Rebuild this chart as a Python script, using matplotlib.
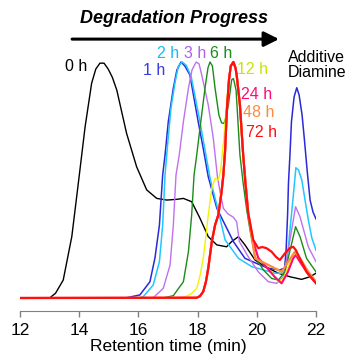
import matplotlib
matplotlib.use("Agg")
import matplotlib.pyplot as plt

plt.rcParams['font.family'] = ['Liberation Sans', 'DejaVu Sans']

# retention time (min) / normalised signal
t_0h = [12.0, 13.0, 13.2, 13.46, 13.75, 13.97, 14.20, 14.42, 14.56, 14.70, 14.84, 14.98, 15.12, 15.27,
        15.60, 15.94, 16.28, 16.62, 16.96, 17.29, 17.52, 17.80, 18.08, 18.36, 18.65, 18.98, 19.15,
        19.38, 19.60, 19.94, 20.28, 20.73, 21.12, 21.51, 21.80, 22.0]
v_0h = [0, 0, 0.02, 0.076, 0.26, 0.486, 0.726, 0.91, 0.97, 0.995, 0.995, 0.97, 0.935, 0.881,
        0.698, 0.556, 0.458, 0.422, 0.415, 0.418, 0.422, 0.408, 0.338, 0.26, 0.225, 0.217, 0.239,
        0.26, 0.225, 0.161, 0.133, 0.105, 0.09, 0.079, 0.09, 0.105]

t_1h = [12.0, 15.5, 15.60, 16.05, 16.39, 16.56, 16.71, 16.82, 16.90, 17.01, 17.18, 17.30, 17.44, 17.57,
        17.74, 18.02, 18.19, 18.36, 18.65, 18.98, 19.21, 19.60, 20.04, 20.39, 20.78, 20.94, 20.99,
        21.04, 21.07, 21.12, 21.17, 21.26, 21.35, 21.43, 21.53, 21.61, 21.70, 21.80, 21.90, 22.0]
v_1h = [0, 0, 0.001, 0.013, 0.069, 0.17, 0.309, 0.521, 0.606, 0.747, 0.889, 0.966, 1.0, 0.983,
        0.945, 0.747, 0.634, 0.514, 0.38, 0.297, 0.239, 0.168, 0.144, 0.126, 0.119, 0.127, 0.203,
        0.352, 0.487, 0.606, 0.746, 0.852, 0.891, 0.86, 0.775, 0.669, 0.542, 0.415, 0.364, 0.335]

t_2h = [12.0, 16.0, 16.16, 16.50, 16.71, 16.82, 16.90, 17.0, 17.10, 17.24, 17.35, 17.48, 17.61, 17.78,
        18.08, 18.25, 18.42, 18.69, 18.93, 19.38, 19.83, 20.61, 20.90, 21.02, 21.12, 21.23, 21.32,
        21.41, 21.52, 21.63, 21.74, 21.86, 22.0]
v_2h = [0, 0, 0.005, 0.055, 0.154, 0.309, 0.521, 0.67, 0.805, 0.915, 0.983, 1.0, 0.987, 0.94,
        0.747, 0.627, 0.508, 0.373, 0.246, 0.168, 0.133, 0.105, 0.105, 0.153, 0.288, 0.429, 0.552,
        0.542, 0.5, 0.415, 0.331, 0.254, 0.203]

t_3h = [12.0, 16.3, 16.50, 16.84, 17.07, 17.18, 17.27, 17.38, 17.52, 17.69, 17.81, 17.95, 18.05, 18.14,
        18.36, 18.53, 18.67, 18.76, 18.87, 19.03, 19.20, 19.32, 19.41, 19.71, 20.05, 20.39, 20.67,
        20.90, 21.12, 21.31, 21.46, 21.74, 22.0]
v_3h = [0, 0, 0.001, 0.041, 0.14, 0.309, 0.521, 0.606, 0.747, 0.889, 0.966, 1.0, 0.992, 0.945,
        0.818, 0.677, 0.514, 0.45, 0.38, 0.356, 0.343, 0.323, 0.239, 0.175, 0.111, 0.069, 0.062,
        0.09, 0.246, 0.387, 0.344, 0.217, 0.154]

t_6h = [12.0, 16.84, 17.18, 17.52, 17.69, 17.80, 17.88, 17.97, 18.08, 18.25, 18.35, 18.42, 18.50, 18.59,
        18.72, 18.81, 18.89, 18.96, 19.04, 19.15, 19.21, 19.30, 19.43, 19.54, 19.66, 19.77, 19.94,
        20.22, 20.50, 20.73, 20.95, 21.18, 21.31, 21.46, 21.68, 22.0]
v_6h = [0, 0, 0.01, 0.069, 0.196, 0.352, 0.521, 0.606, 0.719, 0.889, 0.975, 1.0, 0.983, 0.889,
        0.775, 0.742, 0.74, 0.767, 0.818, 0.924, 0.93, 0.881, 0.606, 0.486, 0.373, 0.288, 0.175,
        0.119, 0.083, 0.076, 0.111, 0.232, 0.302, 0.26, 0.168, 0.111]

t_12h = [12.0, 17.4, 17.57, 17.78, 17.97, 18.08, 18.19, 18.28, 18.36, 18.48, 18.59, 18.70, 18.78, 18.88,
         18.96, 19.04, 19.13, 19.19, 19.28, 19.40, 19.52, 19.62, 19.72, 19.87, 20.04, 20.28, 20.50,
         20.73, 20.90, 21.18, 21.29, 21.46, 21.74, 22.0]
v_12h = [0, 0, 0.005, 0.017, 0.041, 0.093, 0.168, 0.263, 0.352, 0.465, 0.507, 0.5, 0.542, 0.669,
         0.797, 0.915, 0.983, 0.996, 0.975, 0.839, 0.627, 0.479, 0.352, 0.237, 0.169, 0.136, 0.11,
         0.069, 0.083, 0.168, 0.182, 0.154, 0.097, 0.069]

t_24h = [12.0, 17.97, 18.08, 18.19, 18.28, 18.36, 18.48, 18.59, 18.70, 18.81, 18.87, 18.93, 18.99, 19.06,
         19.12, 19.21, 19.28, 19.32, 19.43, 19.54, 19.62, 19.71, 19.88, 20.05, 20.33, 20.60, 20.84,
         21.05, 21.23, 21.32, 21.46, 21.74, 22.0]
v_24h = [0, 0.001, 0.008, 0.027, 0.068, 0.126, 0.239, 0.309, 0.352, 0.45, 0.521, 0.627, 0.797, 0.924,
         0.983, 1.0, 0.975, 0.945, 0.818, 0.606, 0.49, 0.359, 0.24, 0.17, 0.13, 0.09, 0.062,
         0.11, 0.168, 0.182, 0.153, 0.1, 0.064]

t_48h = [12.0, 17.97, 18.08, 18.19, 18.28, 18.36, 18.48, 18.59, 18.70, 18.81, 18.87, 18.93, 18.99, 19.06,
         19.12, 19.21, 19.28, 19.32, 19.43, 19.54, 19.62, 19.71, 19.94, 20.28, 20.61, 20.84, 21.06,
         21.29, 21.46, 21.74, 22.0]
v_48h = [0, 0.001, 0.008, 0.027, 0.068, 0.126, 0.239, 0.309, 0.352, 0.45, 0.521, 0.627, 0.797, 0.924,
         0.983, 1.0, 0.975, 0.945, 0.818, 0.606, 0.49, 0.359, 0.168, 0.147, 0.126, 0.111, 0.154,
         0.196, 0.168, 0.111, 0.069]

t_72h = [12.0, 17.97, 18.08, 18.19, 18.28, 18.36, 18.48, 18.59, 18.70, 18.81, 18.87, 18.93, 18.99, 19.06,
         19.12, 19.21, 19.28, 19.32, 19.43, 19.54, 19.61, 19.71, 19.88, 20.05, 20.18, 20.33, 20.50,
         20.65, 20.78, 20.95, 21.12, 21.23, 21.32, 21.40, 21.68, 22.0]
v_72h = [0, 0.001, 0.008, 0.027, 0.068, 0.126, 0.239, 0.309, 0.352, 0.45, 0.521, 0.627, 0.797, 0.924,
         0.983, 1.0, 0.975, 0.945, 0.818, 0.606, 0.49, 0.359, 0.246, 0.211, 0.216, 0.211, 0.196,
         0.174, 0.161, 0.189, 0.212, 0.217, 0.203, 0.182, 0.111, 0.062]

series = [
    ("0 h", t_0h, v_0h, "black", "black", 1.0),
    ("1 h", t_1h, v_1h, "#2a2ad8", "#3a3ae0", 1.1),
    ("2 h", t_2h, v_2h, "#1fc8ff", "#1fb8f0", 1.1),
    ("3 h", t_3h, v_3h, "#c070f0", "#b060e8", 1.0),
    ("6 h", t_6h, v_6h, "#1a8c1a", "#1a8c1a", 1.0),
    ("12 h", t_12h, v_12h, "#f2f200", "#c8e600", 1.0),
    ("24 h", t_24h, v_24h, "#ff0a78", "#ff0a78", 1.5),
    ("48 h", t_48h, v_48h, "#ff8a3a", "#ff8a3a", 1.6),
    ("72 h", t_72h, v_72h, "#ff1010", "#ff1010", 1.6),
]

# label anchor (left, centre) in data units
label_pos = {"0 h": (13.52, 0.983), "1 h": (16.16, 0.966), "2 h": (16.63, 1.038),
             "3 h": (17.54, 1.038), "6 h": (18.42, 1.038), "12 h": (19.33, 0.97),
             "24 h": (19.47, 0.864), "48 h": (19.53, 0.788), "72 h": (19.64, 0.703)}

fig = plt.figure(figsize=(3.63, 3.63), dpi=100)
ax = fig.add_axes([20 / 363, 52 / 363, 296 / 363, 311 / 363])

for name, t, v, c, lc, lw in series:
    ax.plot(t, v, color=c, lw=lw, solid_joinstyle='round')
    x, y = label_pos[name]
    ax.text(x, y, name, color=lc, fontsize=11.5, ha='left', va='center')

ax.text(22.03, 0.987, "Additive\nDiamine", fontsize=11.5, ha='center', va='center',
        linespacing=1.05, clip_on=False)
ax.text(17.2, 1.186, "Degradation Progress", fontsize=13, fontweight='bold',
        fontstyle='italic', ha='center', va='center')
ax.annotate("", xy=(20.75, 1.097), xytext=(13.76, 1.097),
            arrowprops=dict(arrowstyle='-|>,head_length=0.9,head_width=0.45',
                            lw=2.2, color='black', shrinkA=0, shrinkB=0))

ax.set_xlim(12, 22)
ax.set_ylim(-13 / 236, 298 / 236)
ax.set_xticks([12, 14, 16, 18, 20, 22])
ax.set_yticks([])
for s in ['left', 'top', 'right']:
    ax.spines[s].set_visible(False)
ax.spines['bottom'].set_color('#808080')
ax.tick_params(axis='x', colors='#808080', labelcolor='black', labelsize=12.5,
               length=4.5, width=1, pad=4)
ax.set_xlabel("Retention time (min)", fontsize=12.5, labelpad=1)
ax.patch.set_alpha(0)

fig.savefig("out.png", dpi=100)
